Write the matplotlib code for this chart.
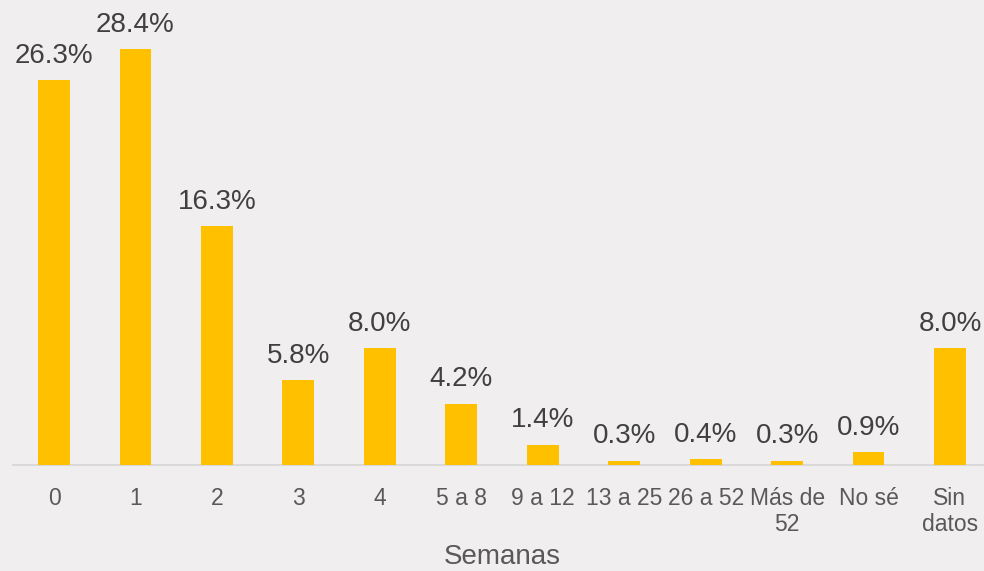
import matplotlib
matplotlib.use('Agg')
import matplotlib.pyplot as plt

plt.rcParams['font.family'] = ['Liberation Sans', 'DejaVu Sans']

# Datos
categorias = ["0", "1", "2", "3", "4", "5 a 8", "9 a 12", "13 a 25",
              "26 a 52", "Más de\n52", "No sé", "Sin\ndatos"]
porcentajes = [26.3, 28.4, 16.3, 5.8, 8.0, 4.2, 1.4, 0.3, 0.4, 0.3, 0.9, 8.0]

bg = '#F0EEEF'
bar_color = '#FFC000'
text_color = '#595959'

fig = plt.figure(figsize=(9.84, 5.71), dpi=100, facecolor=bg)
ax = fig.add_axes([13.3 / 984, 106 / 571, 977.4 / 984, 465 / 571])
ax.set_facecolor(bg)

x = list(range(len(categorias)))
ax.bar(x, porcentajes, width=0.39, color=bar_color, zorder=3)

for xi, v in zip(x, porcentajes):
    ax.annotate(f'{v:.1f}%', xy=(xi, v), xytext=(0, 8), textcoords='offset points',
                ha='center', va='bottom', fontsize=20, color='#404040')

ax.set_xlim(-0.5, len(categorias) - 0.5)
ax.set_ylim(0, 31.76)
ax.set_xticks(x)
ax.set_xticklabels(categorias, fontsize=16.5, color=text_color, linespacing=1.2)
ax.tick_params(axis='x', length=0, pad=15.5)
ax.set_yticks([])

for s in ['top', 'right', 'left']:
    ax.spines[s].set_visible(False)
ax.spines['bottom'].set_color('#D9D9D9')
ax.spines['bottom'].set_linewidth(1.5)

fig.text(502 / 984, 7 / 571, 'Semanas', ha='center', va='baseline',
         fontsize=20, color=text_color)

fig.savefig('out.png', dpi=100, facecolor=bg)
